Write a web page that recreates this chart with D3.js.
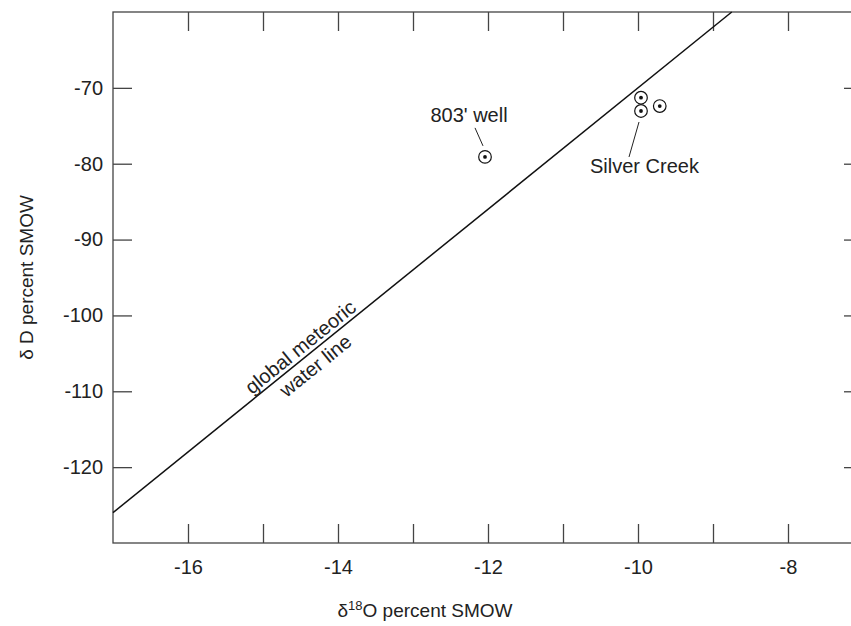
<!DOCTYPE html>
<html>
<head>
<meta charset="utf-8">
<script src="https://cdn.jsdelivr.net/npm/d3@7"></script>
<style>
  body { margin: 0; background: #fff; }
  svg { display: block; font-family: "Liberation Sans", Arial, Helvetica, sans-serif; }
  .axis path { display: none; }
  .axis line { stroke: #444; stroke-width: 1.3; }
  .axis text { font-size: 20px; fill: #222; font-family: "Liberation Sans", Arial, sans-serif; }
</style>
</head>
<body>
<div id="chart"></div>
<script>
// data
var xTicks = [-16, -15, -14, -13, -12, -11, -10, -9, -8];
var xLabelled = [-16, -14, -12, -10, -8];
var yTicks = [-120, -110, -100, -90, -80, -70];

var wellO18 = [-12.04];
var wellD = [-79.1];

var creekO18 = [-9.96, -9.96, -9.71];
var creekD = [-71.3, -73.05, -72.4];

// global meteoric water line end points
var mwlO18 = [-17, -8.75];
var mwlD = [-126, -60];

var totalWidth = 851, totalHeight = 626;
var margin = {left: 113, top: 12, right: -12, bottom: 83};

var svg = d3.select("#chart").append("svg")
    .attr("width", totalWidth).attr("height", totalHeight);

var xScale = d3.scaleLinear()
    .domain([-17, -7])
    .range([margin.left, totalWidth - margin.right]);

var yScale = d3.scaleLinear()
    .domain([-130, -60])
    .range([totalHeight - margin.bottom, margin.top]);

var x0 = xScale.range()[0], x1 = xScale.range()[1];
var y0 = yScale.range()[1], y1 = yScale.range()[0];

// hyphen instead of unicode minus, as in the original
var fmt = function(d) { return String(d); };

// frame
svg.append("rect")
    .attr("x", x0).attr("y", y0)
    .attr("width", x1 - x0).attr("height", y1 - y0)
    .attr("fill", "none").attr("stroke", "#444").attr("stroke-width", 1.3);

var tickLen = 19;

// bottom axis, ticks inside
svg.append("g")
    .attr("class", "axis")
    .attr("transform", "translate(" + [0, y1] + ")")
    .call(d3.axisBottom(xScale).tickValues(xTicks).tickSize(-tickLen).tickPadding(17)
      .tickFormat(function(d) { return xLabelled.indexOf(d) >= 0 ? fmt(d) : ""; }));

// top axis
svg.append("g")
    .attr("class", "axis")
    .attr("transform", "translate(" + [0, y0] + ")")
    .call(d3.axisTop(xScale).tickValues(xTicks).tickSize(-tickLen).tickFormat(""));

// left axis
svg.append("g")
    .attr("class", "axis")
    .attr("transform", "translate(" + [x0, 0] + ")")
    .call(d3.axisLeft(yScale).tickValues(yTicks).tickSize(-tickLen).tickPadding(10)
      .tickFormat(fmt));

// right axis
svg.append("g")
    .attr("class", "axis")
    .attr("transform", "translate(" + [x1, 0] + ")")
    .call(d3.axisRight(yScale).tickValues(yTicks).tickSize(-tickLen).tickFormat(""));

// meteoric water line
var mwl = mwlO18.map(function(o, i) { return {o: o, d: mwlD[i]}; });
var line = d3.line()
    .x(function(d) { return xScale(d.o); })
    .y(function(d) { return yScale(d.d); });

svg.append("path")
    .datum(mwl)
    .attr("d", line)
    .attr("fill", "none")
    .attr("stroke", "#111")
    .attr("stroke-width", 1.5);

// label along the line
var angle = Math.atan2(yScale(mwlD[1]) - yScale(mwlD[0]), xScale(mwlO18[1]) - xScale(mwlO18[0])) * 180 / Math.PI;
var slope = (mwlD[1] - mwlD[0]) / (mwlO18[1] - mwlO18[0]);
var lo = -14.41, ld = mwlD[0] + slope * (lo - mwlO18[0]);
var lab = svg.append("g")
    .attr("transform", "translate(" + [xScale(lo), yScale(ld)] + ") rotate(" + angle + ")")
    .style("font-size", "20px").style("fill", "#222");
lab.append("text").attr("text-anchor", "middle").attr("x", 0).attr("y", -4).text("global meteoric");
lab.append("text").attr("text-anchor", "middle").attr("x", 0).attr("y", 20).text("water line");

// sample symbols
function drawPoints(os, ds) {
  var pts = os.map(function(o, i) { return {o: o, d: ds[i]}; });
  var g = svg.append("g");
  g.selectAll(".ring").data(pts).enter().append("circle")
      .attr("class", "ring")
      .attr("cx", function(d) { return xScale(d.o); })
      .attr("cy", function(d) { return yScale(d.d); })
      .attr("r", 6.3)
      .attr("fill", "#fff").attr("stroke", "#111").attr("stroke-width", 1.2);
  g.selectAll(".dot").data(pts).enter().append("circle")
      .attr("class", "dot")
      .attr("cx", function(d) { return xScale(d.o); })
      .attr("cy", function(d) { return yScale(d.d); })
      .attr("r", 1.9)
      .attr("fill", "#111");
}
drawPoints(wellO18, wellD);
drawPoints(creekO18, creekD);

// 803' well annotation
var wx = xScale(wellO18[0]), wy = yScale(wellD[0]);
svg.append("line")
    .attr("x1", wx - 2).attr("y1", wy - 11).attr("x2", wx - 10).attr("y2", wy - 29)
    .attr("stroke", "#222").attr("stroke-width", 1);
svg.append("text")
    .attr("x", wx - 16).attr("y", wy - 35)
    .attr("text-anchor", "middle")
    .style("font-size", "20px").style("fill", "#222")
    .text("803' well");

// Silver Creek annotation
var cx = xScale(creekO18[1]), cy = yScale(creekD[1]);
svg.append("line")
    .attr("x1", cx - 2).attr("y1", cy + 11).attr("x2", cx - 12).attr("y2", cy + 46)
    .attr("stroke", "#222").attr("stroke-width", 1);
svg.append("text")
    .attr("x", cx - 51).attr("y", cy + 62)
    .style("font-size", "20px").style("fill", "#222")
    .text("Silver Creek");

// axis titles
var xt = svg.append("text")
    .attr("x", 425).attr("y", 617)
    .attr("text-anchor", "middle")
    .style("font-size", "19px").style("fill", "#222");
xt.append("tspan").text("\u03b4");
xt.append("tspan").attr("dy", -7).style("font-size", "13px").text("18");
xt.append("tspan").attr("dy", 7).text("O percent SMOW");

svg.append("text")
    .attr("text-anchor", "middle")
    .attr("transform", "translate(" + [33, (y0 + y1) / 2] + ") rotate(-90)")
    .style("font-size", "19px").style("fill", "#222")
    .text("\u03b4 D percent SMOW");
</script>
</body>
</html>
